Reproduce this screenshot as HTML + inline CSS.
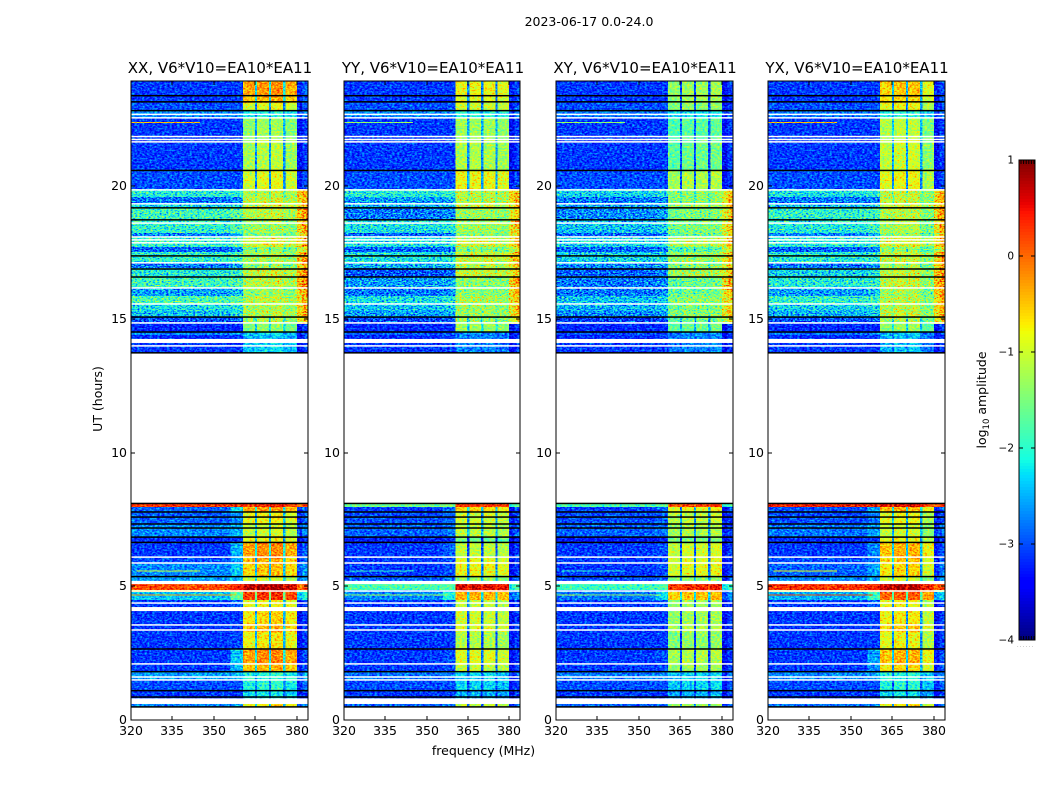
<!DOCTYPE html>
<html>
<head>
<meta charset="utf-8">
<title>2023-06-17 0.0-24.0</title>
<style>
html,body{margin:0;padding:0;background:#fff;}
svg{display:block;font-family:"DejaVu Sans","Liberation Sans",sans-serif;fill:#000;}
</style>
</head>
<body>
<svg id="fig" xmlns="http://www.w3.org/2000/svg" width="1050" height="800" viewBox="0 0 1050 800">
  <defs>
    <filter id="speckleCalm" color-interpolation-filters="sRGB" x="0" y="0" width="1" height="1">
      <feTurbulence type="fractalNoise" baseFrequency="0.4 0.6" numOctaves="2" seed="3" result="n"/>
      <feColorMatrix in="n" type="matrix" values="1 0 0 0 0 1 0 0 0 0 1 0 0 0 0 0 0 0 0 1" result="g"/>
      <feComposite in="SourceGraphic" in2="g" operator="arithmetic" k1="0" k2="1" k3="0.4" k4="-0.22" result="m"/>
      <feComposite in="m" in2="SourceAlpha" operator="in" result="c"/>
      <feComponentTransfer in="c">
        <feFuncR class="jetR" type="table"/>
        <feFuncG class="jetG" type="table"/>
        <feFuncB class="jetB" type="table"/>
      </feComponentTransfer>
    </filter>
    <filter id="speckleBusy" color-interpolation-filters="sRGB" x="0" y="0" width="1" height="1">
      <feTurbulence type="fractalNoise" baseFrequency="0.45 0.75" numOctaves="2" seed="8" result="n"/>
      <feColorMatrix in="n" type="matrix" values="1 0 0 0 0 1 0 0 0 0 1 0 0 0 0 0 0 0 0 1" result="g"/>
      <feComposite in="SourceGraphic" in2="g" operator="arithmetic" k1="0" k2="1" k3="0.7" k4="-0.37" result="m"/>
      <feComposite in="m" in2="SourceAlpha" operator="in" result="c"/>
      <feComponentTransfer in="c">
        <feFuncR class="jetR" type="table"/>
        <feFuncG class="jetG" type="table"/>
        <feFuncB class="jetB" type="table"/>
      </feComponentTransfer>
    </filter>
  </defs>
  <text x="589" y="26" font-size="12.5" text-anchor="middle">2023-06-17 0.0-24.0</text>
  <text x="220" y="73" font-size="15" text-anchor="middle">XX, V6*V10=EA10*EA11</text>
  <text x="433" y="73" font-size="15" text-anchor="middle">YY, V6*V10=EA10*EA11</text>
  <text x="645" y="73" font-size="15" text-anchor="middle">XY, V6*V10=EA10*EA11</text>
  <text x="857" y="73" font-size="15" text-anchor="middle">YX, V6*V10=EA10*EA11</text>
  <text x="483.5" y="755" font-size="12.5" text-anchor="middle">frequency (MHz)</text>
  <text transform="translate(102 399) rotate(-90)" font-size="12.5" text-anchor="middle">UT (hours)</text>
  <text transform="translate(986 400) rotate(-90)" font-size="12.5" text-anchor="middle">log<tspan font-size="8.5" dy="3">10</tspan><tspan dy="-3"> amplitude</tspan></text>
  <text x="1017" y="647" font-size="5" fill="#777" letter-spacing="1.3">......</text>
  <g id="panels"></g>
  <g id="colorbar"></g>
</svg>
<script>
// Time band edges in UT hours (top to bottom); band i spans bandEdges[i] .. bandEdges[i+1]
const bandEdges = [23.93,23.37,23.11,22.81,22.55,21.72,20.60,19.89,19.59,19.33,19.18,18.73,18.24,18.09,17.72,17.53,17.12,16.93,16.59,16.18,15.88,15.58,15.32,15.09,14.83,14.53,14.42,14.23,13.75,8.13,7.98,7.79,7.34,6.85,6.63,6.10,5.88,5.36,5.21,5.09,4.87,4.79,4.49,4.23,4.08,3.56,3.30,2.66,2.10,1.80,1.50,1.09,0.82,0.60,0.49];

// Frequency categories in MHz
const xTickValues = [320,335,350,365,380];
const yTickValues = [0,5,10,15,20];
const cbarTickValues = [1,0,-1,-2,-3,-4];
const cbarTickLabels = ['1','0','\u22121','\u22122','\u22123','\u22124'];
const freqRange = [320,384];
const hourRange = [0,23.93];
const ampRange = [-4,1];
const busyHours = [14.83,19.89];

// Drop (log10) of the baseband gaps relative to the blocks, per band
const gapDepth = [
1.9,1.9,1.8,0.5,1.2,1.5,1.8,0.6,0.5,0.3,
0.1,0.1,0.3,0.2,0.6,0.2,0.5,0.2,0.1,0.2,
0.1,0.2,0.3,0.9,0.9,0.2,0.2,0.2,null,0.2,
1.8,1.6,1.4,1.8,1.9,1.9,1.9,1.2,1.2,0.3,
0.5,1.8,1.7,1.7,1.9,1.9,1.8,1.9,1.9,0.5,
0.8,0.6,0.6,1.8];

// XX log10 amplitude per band
const bgXX = [
-3.0,-3.0,-2.9,-2.6,-3.0,-3.0,-2.9,-2.0,-2.7,-2.2,
-1.8,-1.9,-2.6,-1.9,-2.8,-1.9,-2.7,-2.0,-1.8,-2.5,
-1.7,-2.1,-2.3,-2.9,-3.1,-2.6,-3.1,-3.0,null,0.4,
-2.8,-2.8,-2.6,-3.1,-3.0,-2.9,-2.6,-2.5,-2.5,0.25,
-0.5,-2.3,-3.0,-3.0,-3.0,-3.0,-3.0,-3.0,-3.0,-2.5,
-2.9,-3.0,-3.0,-2.6];
const riseXX = [
-3.0,-3.0,-2.9,-2.6,-3.0,-3.0,-2.9,-1.9,-2.6,-2.1,
-1.6,-1.7,-2.4,-1.7,-2.6,-1.8,-2.5,-1.9,-1.7,-2.3,
-1.6,-2.0,-2.1,-2.8,-3.1,-2.6,-3.0,-3.0,null,0.4,
-2.2,-2.6,-2.4,-3.0,-2.4,-2.5,-2.3,-2.4,-2.4,0.5,
-0.3,-1.6,-2.8,-3.0,-3.0,-3.0,-2.95,-2.3,-2.4,-2.4,
-2.9,-3.0,-3.0,-2.5];
const blockXX = [
-0.15,-0.3,-0.8,-2.0,-1.2,-1.05,-0.8,-1.0,-0.9,-0.8,
-1.0,-1.2,-1.3,-0.8,-1.3,-1.1,-1.2,-0.9,-1.0,-1.2,
-1.0,-1.1,-1.0,-1.1,-1.3,-2.2,-2.3,-2.2,null,0.5,
-0.2,-0.7,-0.9,-0.7,-0.1,-0.3,-0.4,-0.9,-0.9,0.9,
0.5,0.4,-0.7,-0.7,-0.5,-0.3,-0.6,-0.1,-0.3,-1.9,
-1.9,-2.1,-2.1,-0.6];
const edgeXX = [
-2.8,-2.8,-2.9,-2.6,-3.0,-3.0,-2.9,-0.2,-0.3,-0.2,
-0.1,-0.2,-0.5,-0.2,-0.7,-0.1,-0.3,0.0,0.0,-0.2,
-0.3,-0.3,-0.2,-0.4,-3.0,-2.8,-3.0,-3.0,null,0.3,
-2.7,-2.8,-2.6,-3.0,-2.8,-2.8,-2.5,-2.5,-2.5,0.3,
-1.0,-2.0,-3.0,-3.0,-3.0,-3.0,-3.0,-2.9,-2.9,-2.5,
-2.8,-3.0,-3.0,-2.5];

// YY
const bgYY = [
-3.0,-3.0,-2.9,-2.6,-3.0,-3.0,-2.9,-2.0,-2.5,-2.4,
-2.7,-2.1,-2.8,-2.1,-2.8,-2.1,-2.4,-2.9,-2.5,-2.7,
-2.1,-2.3,-2.5,-3.0,-3.1,-2.8,-3.1,-3.0,null,-1.5,
-3.0,-2.9,-2.8,-3.2,-3.0,-3.0,-3.0,-2.8,-2.8,-1.7,
-2.5,-2.6,-3.0,-3.0,-3.0,-3.0,-3.0,-3.0,-3.0,-2.7,
-2.9,-3.0,-3.0,-2.8];
const riseYY = [
-3.0,-3.0,-2.9,-2.6,-3.0,-3.0,-2.9,-1.9,-2.4,-2.3,
-2.6,-2.0,-2.7,-2.0,-2.7,-2.0,-2.3,-2.8,-2.4,-2.6,
-2.0,-2.2,-2.4,-2.9,-3.1,-2.8,-3.0,-3.0,null,-1.4,
-2.7,-2.8,-2.7,-3.1,-2.8,-2.9,-2.9,-2.7,-2.7,-1.6,
-2.3,-2.0,-2.9,-3.0,-3.0,-3.0,-3.0,-2.9,-2.9,-2.6,
-2.9,-3.0,-3.0,-2.7];
const blockYY = [
-0.7,-0.8,-0.9,-2.0,-1.2,-1.1,-0.7,-1.0,-1.0,-0.9,
-1.2,-1.2,-1.3,-0.9,-1.3,-0.9,-1.0,-0.9,-1.3,-1.3,
-1.1,-1.2,-1.2,-1.2,-1.2,-2.6,-2.6,-2.6,null,0.4,
-0.5,-0.9,-1.0,-1.5,-1.0,-0.8,-0.7,-1.2,-1.2,0.7,
0.2,-0.3,-1.0,-1.0,-0.9,-0.8,-1.1,-0.8,-1.0,-2.2,
-2.2,-2.4,-2.4,-1.0];
const edgeYY = [
-2.9,-2.9,-2.9,-2.7,-3.0,-3.0,-2.9,-0.3,-0.3,-0.4,
-0.5,-0.4,-0.6,-0.3,-0.8,-0.3,-0.4,-0.5,-0.2,-0.3,
-0.4,-0.4,-0.4,-0.7,-3.0,-3.0,-3.0,-3.0,null,-1.5,
-2.9,-2.9,-2.8,-3.1,-3.0,-3.0,-3.0,-2.8,-2.8,-1.7,
-2.5,-2.5,-3.0,-3.0,-3.0,-3.0,-3.0,-3.0,-3.0,-2.8,
-2.9,-3.0,-3.0,-2.8];

// XY
const bgXY = [
-3.0,-3.0,-2.9,-2.7,-3.0,-3.0,-2.9,-2.2,-2.7,-2.5,
-2.6,-2.3,-2.8,-2.2,-2.8,-2.2,-2.6,-2.8,-2.7,-2.7,
-2.3,-2.4,-2.6,-3.0,-3.1,-2.9,-3.1,-3.0,null,-1.7,
-3.0,-2.9,-2.8,-3.2,-3.0,-3.0,-3.0,-2.9,-2.9,-1.8,
-2.6,-2.7,-3.0,-3.0,-3.0,-3.0,-3.0,-3.0,-3.0,-2.7,
-2.9,-3.0,-3.0,-2.8];
const riseXY = [
-3.0,-3.0,-2.9,-2.7,-3.0,-3.0,-2.9,-2.1,-2.6,-2.4,
-2.5,-2.2,-2.7,-2.1,-2.7,-2.1,-2.5,-2.7,-2.6,-2.6,
-2.2,-2.3,-2.5,-2.9,-3.1,-2.9,-3.0,-3.0,null,-1.6,
-2.8,-2.8,-2.7,-3.1,-2.9,-2.9,-2.9,-2.8,-2.8,-1.7,
-2.4,-2.2,-2.9,-3.0,-3.0,-3.0,-3.0,-2.9,-2.9,-2.6,
-2.9,-3.0,-3.0,-2.7];
const blockXY = [
-1.2,-1.2,-1.3,-2.1,-1.6,-1.5,-1.1,-1.3,-1.3,-1.2,
-1.4,-1.4,-1.5,-1.1,-1.6,-1.2,-1.3,-1.1,-1.5,-1.5,
-1.3,-1.4,-1.3,-1.5,-1.5,-2.6,-2.6,-2.6,null,0.3,
-0.7,-1.0,-1.1,-1.4,-0.9,-0.8,-0.8,-1.3,-1.3,0.5,
0.0,-0.4,-1.2,-1.2,-1.2,-1.1,-1.3,-1.1,-1.2,-2.2,
-2.2,-2.4,-2.4,-1.2];
const edgeXY = [
-3.0,-3.0,-3.0,-2.8,-3.0,-3.0,-3.0,-0.5,-0.4,-0.4,
-0.5,-0.5,-0.7,-0.4,-0.8,-0.4,-0.5,-0.5,-0.3,-0.4,
-0.5,-0.5,-0.4,-0.8,-3.0,-3.0,-3.0,-3.0,null,-1.7,
-3.0,-3.0,-2.9,-3.1,-3.0,-3.0,-3.0,-2.9,-2.9,-1.8,
-2.6,-2.6,-3.0,-3.0,-3.0,-3.0,-3.0,-3.0,-3.0,-2.8,
-2.9,-3.0,-3.0,-2.8];

// YX
const bgYX = [
-3.0,-3.0,-2.9,-2.7,-3.0,-3.0,-2.9,-2.1,-2.7,-2.3,
-1.9,-2.0,-2.6,-2.0,-2.8,-2.0,-2.7,-2.2,-2.0,-2.5,
-1.9,-2.2,-2.4,-2.9,-3.1,-2.7,-3.1,-3.0,null,0.5,
-2.9,-2.9,-2.7,-3.1,-3.0,-2.9,-2.8,-2.6,-2.6,0.4,
-0.6,-2.4,-3.0,-3.0,-3.0,-3.0,-3.0,-3.0,-3.0,-2.6,
-2.9,-3.0,-3.0,-2.7];
const riseYX = [
-3.0,-3.0,-2.9,-2.7,-3.0,-3.0,-2.9,-2.0,-2.6,-2.2,
-1.8,-1.8,-2.4,-1.8,-2.6,-1.9,-2.5,-2.0,-1.9,-2.3,
-1.8,-2.1,-2.2,-2.8,-3.1,-2.7,-3.0,-3.0,null,0.5,
-2.5,-2.7,-2.5,-3.0,-2.6,-2.7,-2.5,-2.5,-2.5,0.5,
-0.4,-1.8,-2.8,-3.0,-3.0,-3.0,-3.0,-2.5,-2.6,-2.5,
-2.9,-3.0,-3.0,-2.6];
const blockYX = [
-0.5,-0.6,-0.8,-2.0,-1.1,-1.0,-0.8,-1.0,-1.0,-0.9,
-1.1,-1.2,-1.3,-0.9,-1.3,-1.0,-1.2,-1.0,-1.0,-1.2,
-1.1,-1.1,-1.0,-1.2,-1.3,-2.4,-2.4,-2.4,null,0.6,
-0.4,-0.8,-1.0,-0.8,-0.4,-0.5,-0.6,-1.0,-1.0,0.8,
0.4,0.1,-0.8,-0.8,-0.7,-0.5,-0.8,-0.4,-0.6,-2.0,
-2.0,-2.2,-2.2,-0.7];
const edgeYX = [
-2.9,-2.9,-2.9,-2.7,-3.0,-3.0,-2.9,-0.3,-0.3,-0.3,
-0.2,-0.3,-0.5,-0.3,-0.8,-0.2,-0.3,-0.1,-0.1,-0.2,
-0.3,-0.3,-0.3,-0.5,-3.0,-2.8,-3.0,-3.0,null,0.4,
-2.8,-2.9,-2.7,-3.0,-2.9,-2.9,-2.7,-2.6,-2.6,0.4,
-1.0,-2.2,-3.0,-3.0,-3.0,-3.0,-3.0,-2.9,-2.9,-2.6,
-2.8,-3.0,-3.0,-2.7];

// Relative level of the four bright basebands, per polarisation
const blockTiltXX = [-0.1,0,0.05,-0.15];
const blockTiltYY = [0,0,0,-0.1];
const blockTiltXY = [-0.1,0,0,0.05];
const blockTiltYX = [0,0.1,0.1,-0.3];

// Narrow interference lines
const rfiHour = [22.38,5.58,4.68];
const rfiFreqStart = [320,322,320];
const rfiFreqEnd = [345,345,358];
const rfiXX = [-0.3,-0.9,-0.2];
const rfiYY = [-1.3,-1.9,-1.2];
const rfiXY = [-1.3,-2.0,-1.2];
const rfiYX = [-0.3,-0.7,0.3];

// Flagged integrations (UT hours)
const whiteLineHours = [22.68,22.55,21.85,21.74,21.65,19.85,19.33,18.61,18.09,17.98,17.87,17.12,16.18,15.58,14.87,14.01,6.10,5.88,4.83,4.38,3.56,3.37,2.10,1.61,1.50];
const blackLineHours = [23.38,23.15,22.82,20.58,19.18,18.73,17.38,16.89,16.59,15.09,14.53,13.75,8.11,7.79,7.60,7.34,7.19,6.85,6.65,5.37,2.66,1.81,1.10,0.86,0.49];
const blankStart = [14.27,5.21,4.23,0.81];
const blankEnd = [14.12,5.09,4.08,0.60];

// Layout
const SVG_NS = 'http://www.w3.org/2000/svg';
const plotTop = 81, plotBottom = 720;
const panelLeft = [131,344,556,768];
const panelRight = [308,520,733,945];
const panelKeys = ['xx','yy','xy','yx'];
const panelBg = [bgXX,bgYY,bgXY,bgYX];
const panelRise = [riseXX,riseYY,riseXY,riseYX];
const panelBlock = [blockXX,blockYY,blockXY,blockYX];
const panelEdge = [edgeXX,edgeYY,edgeXY,edgeYX];
const panelTilt = [blockTiltXX,blockTiltYY,blockTiltXY,blockTiltYX];
const panelRfi = [rfiXX,rfiYY,rfiXY,rfiYX];

function xScale(f, p) {
  return panelLeft[p] + (f - freqRange[0]) / (freqRange[1] - freqRange[0]) * (panelRight[p] - panelLeft[p]);
}
function yScale(h) {
  return plotBottom - (h - hourRange[0]) / (hourRange[1] - hourRange[0]) * (plotBottom - plotTop);
}
function lerpTable(t, xs, ys) {
  for (let i = 1; i < xs.length; i++) {
    if (t <= xs[i]) return ys[i-1] + (ys[i]-ys[i-1]) * (t-xs[i-1]) / (xs[i]-xs[i-1]);
  }
  return ys[ys.length-1];
}
function jetR(t) { return lerpTable(t,[0,.35,.66,.89,1],[0,0,1,1,.5]); }
function jetG(t) { return lerpTable(t,[0,.125,.375,.64,.91,1],[0,0,1,1,0,0]); }
function jetB(t) { return lerpTable(t,[0,.11,.34,.65,1],[.5,1,1,0,0]); }
function ampFrac(v) {
  return Math.max(0, Math.min(1, (v - ampRange[0]) / (ampRange[1] - ampRange[0])));
}
function jet(v) {
  const t = ampFrac(v);
  return 'rgb(' + Math.round(jetR(t)*255) + ',' + Math.round(jetG(t)*255) + ',' + Math.round(jetB(t)*255) + ')';
}
// Cells are drawn as grey = normalised amplitude; the speckle filters add noise in amplitude space and then apply jet.
function levelGrey(v) {
  const g = Math.round(ampFrac(v) * 255);
  return 'rgb(' + g + ',' + g + ',' + g + ')';
}
[['.jetR', jetR], ['.jetG', jetG], ['.jetB', jetB]].forEach(function (pair) {
  const vals = [];
  for (let i = 0; i <= 100; i++) vals.push(pair[1](i / 100).toFixed(3));
  document.querySelectorAll(pair[0]).forEach(function (el) {
    el.setAttribute('tableValues', vals.join(' '));
  });
});

function rectEl(parent, x0, y0, x1, y1, fill, crisp) {
  const r = document.createElementNS(SVG_NS, 'rect');
  r.setAttribute('x', x0.toFixed(2));
  r.setAttribute('y', y0.toFixed(2));
  r.setAttribute('width', Math.max(0, x1 - x0).toFixed(2));
  r.setAttribute('height', Math.max(0, y1 - y0).toFixed(2));
  r.setAttribute('fill', fill);
  if (crisp) r.setAttribute('shape-rendering', 'crispEdges');
  parent.appendChild(r);
  return r;
}
function lineEl(parent, x1, y1, x2, y2) {
  const l = document.createElementNS(SVG_NS, 'line');
  l.setAttribute('x1', x1);
  l.setAttribute('y1', y1);
  l.setAttribute('x2', x2);
  l.setAttribute('y2', y2);
  l.setAttribute('stroke', '#000');
  l.setAttribute('stroke-width', '1');
  parent.appendChild(l);
  return l;
}
function textEl(parent, x, y, str, anchor, size) {
  const t = document.createElementNS(SVG_NS, 'text');
  t.setAttribute('x', x);
  t.setAttribute('y', y);
  t.setAttribute('text-anchor', anchor);
  t.setAttribute('font-size', size);
  t.textContent = str;
  parent.appendChild(t);
  return t;
}
function groupEl(parent) {
  const g = document.createElementNS(SVG_NS, 'g');
  parent.appendChild(g);
  return g;
}

const panelsRoot = document.getElementById('panels');
const segStart = [320,356,360.5,364.8,365.6,369.9,370.7,375,375.8,380,382];
const segEnd = [356,360.5,364.8,365.6,369.9,370.7,375,375.8,380,382,384];

panelKeys.forEach(function (key, p) {
  const panel = groupEl(panelsRoot);
  
  

  const cellsCalm = groupEl(panel);
  
  
  cellsCalm.setAttribute('filter', 'url(#speckleCalm)');
  const cellsBusy = groupEl(panel);
  
  
  cellsBusy.setAttribute('filter', 'url(#speckleBusy)');

  const bg = panelBg[p], rise = panelRise[p], block = panelBlock[p], edge = panelEdge[p], tilt = panelTilt[p];

  for (let i = 0; i < bandEdges.length - 1; i++) {
    if (bg[i] === null) continue;
    const y0 = yScale(bandEdges[i]);
    const y1 = yScale(bandEdges[i + 1]);
    const gapLevel = Math.max(block[i] - gapDepth[i], bg[i]);
    const segLevel = [
      bg[i], rise[i],
      block[i] + tilt[0], gapLevel,
      block[i] + tilt[1], gapLevel,
      block[i] + tilt[2], gapLevel,
      block[i] + tilt[3],
      edge[i] - 0.3, edge[i]
    ];
    const isBusy = bandEdges[i] <= busyHours[1] && bandEdges[i + 1] >= busyHours[0];
    const target = isBusy ? cellsBusy : cellsCalm;
    for (let s = 0; s < segStart.length; s++) {
      const c = rectEl(target, xScale(segStart[s], p), y0, xScale(segEnd[s], p), y1, levelGrey(segLevel[s]), true);
      
      
    }
  }

  rfiHour.forEach(function (h, i) {
    const c = rectEl(cellsCalm, xScale(rfiFreqStart[i], p), yScale(h) - 0.5, xScale(rfiFreqEnd[i], p), yScale(h) + 0.5, levelGrey(panelRfi[p][i]), true);
    
    
  });

  const flags = groupEl(panel);
  
  
  const L = panelLeft[p], R = panelRight[p];
  whiteLineHours.forEach(function (h) {
    const y = yScale(h);
    const w = rectEl(flags, L, y - 0.75, R, y + 0.75, '#fff', false);
    
    
  });
  blankStart.forEach(function (h, i) {
    const w = rectEl(flags, L, yScale(h), R, yScale(blankEnd[i]), '#fff', false);
    
    
  });
  blackLineHours.forEach(function (h) {
    const y = yScale(h);
    const b = rectEl(flags, L, y - 0.75, R, y + 0.75, '#000', false);
    
    
  });

  const frame = document.createElementNS(SVG_NS, 'rect');
  frame.setAttribute('x', L);
  frame.setAttribute('y', plotTop);
  frame.setAttribute('width', R - L);
  frame.setAttribute('height', plotBottom - plotTop);
  frame.setAttribute('fill', 'none');
  frame.setAttribute('stroke', '#000');
  frame.setAttribute('stroke-width', '1');
  
  
  panel.appendChild(frame);

  xTickValues.forEach(function (f) {
    const x = Math.round(xScale(f, p));
    const t1 = lineEl(panel, x, plotBottom, x, plotBottom - 4);
    
    
    const t2 = lineEl(panel, x, plotTop, x, plotTop + 4);
    
    
    const lab = textEl(panel, x, 735, String(f), 'middle', 12.5);
    
    
  });
  yTickValues.forEach(function (h) {
    const y = Math.round(yScale(h));
    const t1 = lineEl(panel, L, y, L + 4, y);
    
    
    const t2 = lineEl(panel, R, y, R - 4, y);
    
    
    const lab = textEl(panel, L - 4, y + 4, String(h), 'end', 12.5);
    
    
  });
});

// Colorbar
const cbarRoot = document.getElementById('colorbar');
const cbarLeft = 1019, cbarRight = 1035, cbarTop = 160, cbarBottom = 640;
function cbarY(v) {
  return cbarBottom - (v - ampRange[0]) / (ampRange[1] - ampRange[0]) * (cbarBottom - cbarTop);
}
const cbarSteps = 160;
for (let i = 0; i < cbarSteps; i++) {
  const v0 = ampRange[0] + (ampRange[1] - ampRange[0]) * i / cbarSteps;
  const v1 = ampRange[0] + (ampRange[1] - ampRange[0]) * (i + 1) / cbarSteps;
  const s = rectEl(cbarRoot, cbarLeft, cbarY(v1), cbarRight, cbarY(v0), jet((v0 + v1) / 2), true);
  
  
}
const cbarFrame = document.createElementNS(SVG_NS, 'rect');
cbarFrame.setAttribute('x', cbarLeft);
cbarFrame.setAttribute('y', cbarTop);
cbarFrame.setAttribute('width', cbarRight - cbarLeft);
cbarFrame.setAttribute('height', cbarBottom - cbarTop);
cbarFrame.setAttribute('fill', 'none');
cbarFrame.setAttribute('stroke', '#000');
cbarFrame.setAttribute('stroke-width', '1');


cbarRoot.appendChild(cbarFrame);
cbarTickValues.forEach(function (v, i) {
  const y = Math.round(cbarY(v));
  const t1 = lineEl(cbarRoot, cbarLeft, y, cbarLeft + 4, y);
  
  
  const t2 = lineEl(cbarRoot, cbarRight, y, cbarRight - 4, y);
  
  
  const lab = textEl(cbarRoot, 1014, y + 3.5, cbarTickLabels[i], 'end', 10.5);
  
  
});
for (let k = 0; k < 6; k++) {
  const x = cbarLeft + 2 + k * 2.6;
  const t1 = lineEl(cbarRoot, x, cbarTop, x, cbarTop + 4);
  
  
  const t2 = lineEl(cbarRoot, x, cbarBottom, x, cbarBottom - 4);
  
  
}
</script>
</body>
</html>
